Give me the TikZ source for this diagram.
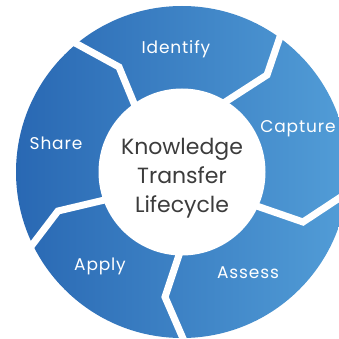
\documentclass[tikz,border=0pt]{standalone}
\usepackage{fontspec}
\setmainfont{Poppins}
\definecolor{ringleft}{HTML}{2968B3}
\definecolor{ringright}{HTML}{529DD7}
\definecolor{hubtext}{HTML}{3C3C3C}
\tikzset{
  gap/.style={draw=white, line width=7pt, line join=miter},
  stage/.style={text=white, font=\fontsize{17}{19}\selectfont\addfontfeatures{LetterSpace=5}, inner sep=0pt},
  hub/.style={circle, fill=white, minimum size=167pt, inner sep=0pt},
}
\begin{document}
\begin{tikzpicture}[x=1pt, y=-1pt]
  \useasboundingbox (0,0) rectangle (339,339);
  \fill[white] (0,0) rectangle (339,339);
  % outer ring with horizontal blue gradient
  \shade[left color=ringleft, right color=ringright] (182,172) circle[radius=166pt];
  % separators between the five stages
  \draw[gap] (138,113) -- (119,67) -- (66,38);
  \draw[gap] (219,106) -- (267,75) -- (283,28);
  \draw[gap] (248,203) -- (303,222) -- (356,187);
  \draw[gap] (182,246) -- (165,297) -- (188,350);
  \draw[gap] (113,198) -- (58,211) -- (26,253);
  % central hub
  \node[hub] (hub) at (182,172) {};
  \node[text=hubtext, font=\fontsize{22}{29}\selectfont, align=center] (title) at (182,178)
    {Knowledge\\Transfer\\Lifecycle};
  % stage labels
  \node[stage] (identify) at (176,49) {Identify};
  \node[stage] (capture) at (298,129) {Capture};
  \node[stage] (assess) at (248,273) {Assess};
  \node[stage] (apply) at (100,266) {Apply};
  \node[stage] (share) at (56,143) {Share};
\end{tikzpicture}
\end{document}
